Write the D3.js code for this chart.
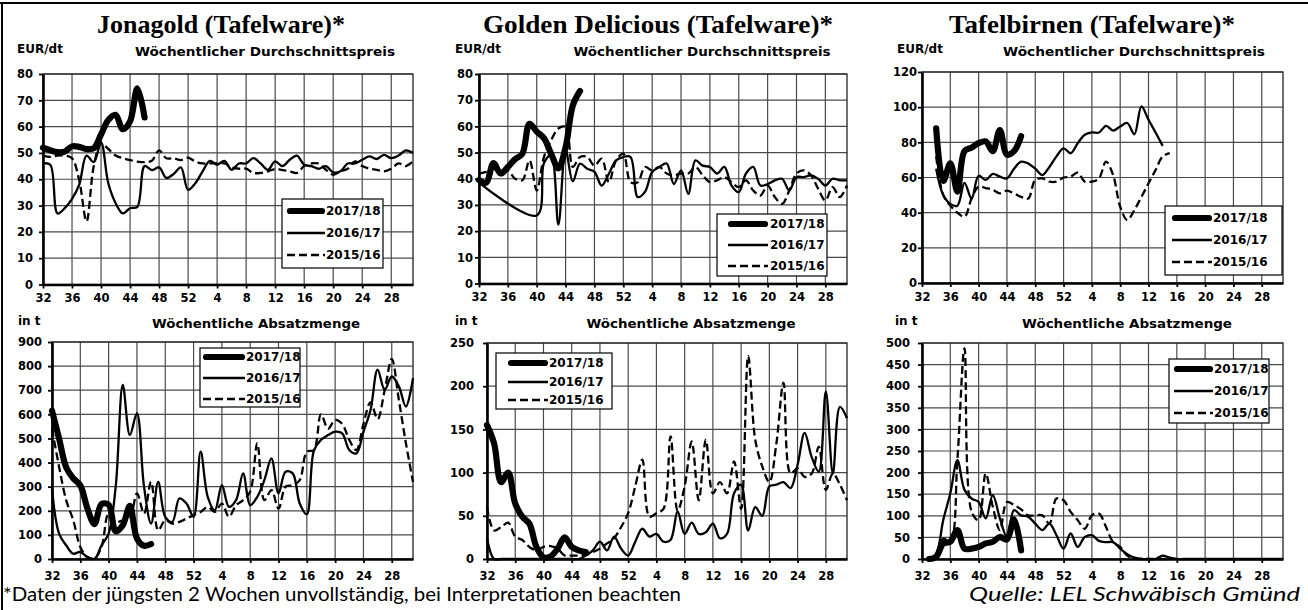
<!DOCTYPE html>
<html>
<head>
<meta charset="utf-8">
<script src="https://cdn.jsdelivr.net/npm/d3@7"></script>
<style>
    body { margin: 0; background: #fff; }
    svg text { fill: #000; }
</style>
</head>
<body>
<script>
// weekly market data, weeks 32 .. 31 of next year (index 0 = week 32)
var weeks = [32,33,34,35,36,37,38,39,40,41,42,43,44,45,46,47,48,49,50,51,52,
             1,2,3,4,5,6,7,8,9,10,11,12,13,14,15,16,17,18,19,20,21,22,23,24,25,26,27,28,29,30,31];
var tickIdx = [0,4,8,12,16,20,24,28,32,36,40,44,48]; // labelled weeks 32,36,...,28
var seasons = ["2017/18", "2016/17", "2015/16"];

// Jonagold – price EUR/dt
var jonaPrice1718 = [52,51,50.3,50.5,52.5,52.3,51.5,51.8,57,62.5,64.5,59,62,74.5,63.5];
var jonaPrice1617 = [46,45.5,27,29,32.5,38,49,46.5,54,38.5,31,27,29,29.5,45,43.5,44.5,40.5,42,44.5,
                     36,38.5,43,47,45.5,47,43.6,46,46,48,46,43.6,46.8,45,47.4,49,45.5,45,44,45,
                     42.6,43,46,46,47.4,48.7,47.7,49.3,48,49,51,50];
var jonaPrice1516 = [49,48.5,49,49,48,39.5,24,45,53.5,51.5,49,48,47.3,46.7,46.5,47,51,48,48,47.3,
                     48.2,46.7,46,46,46,46,44.5,44,44,42.4,42.4,43,43.9,43.5,43,42.4,45,46,46,43.6,
                     41.7,43,44,46.8,45,44,43.6,43,44,46,45,46.8];
// Jonagold – volume t
var jonaVol1718 = [615,500,380,335,305,210,145,228,225,115,140,220,85,55,62];
var jonaVol1617 = [290,105,57,22,29,8,1,57,105,300,722,514,605,300,147,320,175,154,251,230,
                   175,445,258,202,306,216,244,355,223,258,327,417,272,362,355,230,185,450,494,514,
                   528,521,452,438,528,618,785,702,757,716,632,750];
var jonaVol1516 = [540,383,244,161,50,8,1,50,189,154,160,170,272,189,320,119,161,147,154,168,
                   182,195,216,195,230,175,223,244,280,480,244,286,209,300,306,327,445,452,600,540,
                   577,560,494,452,560,650,580,700,830,660,480,320];

// Golden Delicious – price EUR/dt
var goldPrice1718 = [39.5,38.5,46,42,44.5,47.5,49.5,61,58,55.5,49.5,44,52,68,73.5];
var goldPrice1617 = [38.5,null,null,null,null,null,null,null,26,46,49,22.5,51,39,45.8,43.8,42.6,37.4,41.9,47,
                     48.3,48.3,33,35,42.6,44.5,45.8,38,43.2,34.2,47,45,44.5,42,44.5,37.4,34.9,42,44.5,37.4,
                     38,39.4,40,35.5,40.6,40.6,41.3,40,37.4,40,39.4,39.4];
var goldPrice1516 = [42,42.6,43.8,42.6,43.2,40,39.4,47,35.5,48.3,54.7,59.2,59.8,44.5,48.3,48.3,45,47.7,38.7,47,
                     49.6,38.7,38.7,44.5,43.2,44.5,42,41.3,42,42,44.5,41.3,38.7,39.4,40.6,38.7,36.8,39.4,35.5,33.6,
                     37.4,33,30.4,35.5,42,43.2,41.3,36.2,31.7,36.8,33,37.4];
// Golden Delicious – volume t
var goldVol1718 = [155,134,89,100,64,49,41,14,2,3,12,25,14,10,8];
var goldVol1617 = [24,0,0,0,0,0,0,0,0,0,0,0,0,0,4,10,20,10,26,12,
                   4,20,35,26,29,20,22,55,29,42,29,31,41,24,29,76,86,33,60,50,
                   84,86,89,82,109,146,118,101,194,99,176,163];
var goldVol1516 = [60,33,37,42,26,22,14,10,14,15,12,4,4,4,5,8,12,18,24,37,
                   53,84,115,49,53,58,142,56,84,136,68,138,76,89,76,113,58,235,138,107,
                   89,134,204,99,105,95,99,130,80,99,86,68];

// Tafelbirnen – price EUR/dt
var pearPrice1718 = [null,null,88,58,68,52,75,77,79.5,80.5,75,87,73,75,83.5];
var pearPrice1617 = [null,null,65,50,45,44,57,48,61,58.6,62,60.5,59.5,65,69,68,65,61.4,66,72,
                     76.6,73.8,79.5,84.3,85.6,85.6,89.4,86.7,89,91,84.6,100.5,92.8,85.6,78,null,null,null,null,null,
                     null,null,null,null,null,null,null,null,null,null,null,null];
var pearPrice1516 = [null,null,72,50,44,40,37.7,48,54.8,54,53,51,52.5,51,49,48,58.6,59.5,57.6,57.6,
                     60,60.5,62.8,57.6,57.6,59.5,69,61.4,43.4,35.8,41.5,49,56.7,64.3,72,73.8,null,null,null,null,
                     null,null,null,null,null,null,null,null,null,null,null,null];
// Tafelbirnen – volume t
var pearVol1718 = [null,0,5,36,40,67,24,24,28,36,40,51,45,92,20];
var pearVol1617 = [null,0,12,90,152,229,160,140,132,94,148,94,51,113,101,98,82,67,82,55,
                   24,59,28,51,55,42,39,39,24,11,3,0,0,0,8,3,0,0,0,0,
                   0,0,0,0,0,0,0,0,0,0,0,0];
var pearVol1516 = [null,0,5,47,40,230,488,110,90,198,121,67,132,125,115,101,101,101,82,140,
                   136,109,90,70,101,105,74,39,28,8,1,0,0,0,0,0,null,null,null,null,
                   null,null,null,null,null,null,null,null,null,null,null,null];

// panel layout (pixel boxes)
var panels = [
    { x0: 43, x1: 413, y0: 74, y1: 284.5, yMax: 80, yStep: 10, pad: 6, xpad: 5.5,
      unit: "EUR/dt", unitX: 17, unitY: 52.5, sub: "Wöchentlicher Durchschnittspreis", subX: 265, subW: 260, subY: 56,
      series: [jonaPrice1718, jonaPrice1617, jonaPrice1516],
      leg: { x: 282, y: 199, w: 101, h: 69, s0: 5, s1: 43, t: 44, rows: [12, 34, 56] } },
    { x0: 52, x1: 413, y0: 342, y1: 559, yMax: 900, yStep: 100, pad: 6, xpad: 8.5,
      unit: "in t", unitX: 18, unitY: 325, sub: "Wöchentliche Absatzmenge", subX: 256, subW: 208, subY: 328,
      series: [jonaVol1718, jonaVol1617, jonaVol1516],
      leg: { x: 200, y: 348, w: 100, h: 59, s0: 3, s1: 45, t: 46, rows: [9, 30, 51] } },
    { x0: 479, x1: 847, y0: 74, y1: 283.5, yMax: 80, yStep: 10, pad: 2, xpad: 5.5,
      unit: "EUR/dt", unitX: 455, unitY: 52.5, sub: "Wöchentlicher Durchschnittspreis", subX: 702, subW: 257, subY: 56,
      series: [goldPrice1718, goldPrice1617, goldPrice1516],
      leg: { x: 717, y: 214, w: 110, h: 62, s0: 11, s1: 51, t: 53, rows: [10, 31, 52] } },
    { x0: 487, x1: 847, y0: 343, y1: 559, yMax: 250, yStep: 50, pad: 9, xpad: 8.5,
      unit: "in t", unitX: 455, unitY: 325, sub: "Wöchentliche Absatzmenge", subX: 691, subW: 209, subY: 328,
      series: [goldVol1718, goldVol1617, goldVol1516],
      leg: { x: 496, y: 353, w: 116, h: 56, s0: 12, s1: 52, t: 53, rows: [10, 29, 47] } },
    { x0: 922, x1: 1283, y0: 72, y1: 283, yMax: 120, yStep: 20, pad: 1, xpad: 5.5,
      unit: "EUR/dt", unitX: 897, unitY: 52.5, sub: "Wöchentlicher Durchschnittspreis", subX: 1134, subW: 262, subY: 56,
      series: [pearPrice1718, pearPrice1617, pearPrice1516],
      leg: { x: 1165, y: 206, w: 117, h: 69, s0: 7, s1: 47, t: 48, rows: [12, 34, 56] } },
    { x0: 922, x1: 1283, y0: 343, y1: 559, yMax: 500, yStep: 50, pad: 8, xpad: 8.5,
      unit: "in t", unitX: 895, unitY: 325, sub: "Wöchentliche Absatzmenge", subX: 1127, subW: 210, subY: 328,
      series: [pearVol1718, pearVol1617, pearVol1516],
      leg: { x: 1169, y: 359, w: 100, h: 64, s0: 5, s1: 44, t: 45, rows: [10, 32, 54] } }
];

var titles = [
    { text: "Jonagold (Tafelware)*", x: 221, w: 248 },
    { text: "Golden Delicious (Tafelware)*", x: 658, w: 350 },
    { text: "Tafelbirnen (Tafelware)*", x: 1092, w: 286 }
];

// line look per season: thick / solid / dashed
var lineStyle = [
    { w: 6.2, dash: null },
    { w: 2.3, dash: null },
    { w: 2.3, dash: "8,4" }
];

var sansB = "'DejaVu Sans', sans-serif";

var svg = d3.select("body").append("svg")
    .attr("width", 1308)
    .attr("height", 610);

// frame lines (top + left)
svg.append("line").attr("x1", 0).attr("x2", 1308).attr("y1", 3).attr("y2", 3)
    .attr("stroke", "#000").attr("stroke-width", 2.2);
svg.append("line").attr("x1", 2).attr("x2", 2).attr("y1", 2).attr("y2", 610)
    .attr("stroke", "#000").attr("stroke-width", 2);

titles.forEach(function (t) {
    svg.append("text")
        .attr("x", t.x).attr("y", 33)
        .attr("text-anchor", "middle")
        .attr("textLength", t.w)
        .attr("lengthAdjust", "spacingAndGlyphs")
        .style("font-family", "'Liberation Serif', serif")
        .style("font-weight", "bold")
        .style("font-size", "26px")
        .text(t.text);
});

panels.forEach(drawPanel);

function drawPanel(p) {
    var x = d3.scaleLinear().domain([0, weeks.length - 1]).range([p.x0, p.x1]);
    var y = d3.scaleLinear().domain([0, p.yMax]).range([p.y1, p.y0]);
    var yTicks = d3.range(0, p.yMax + 1, p.yStep);
    var g = svg.append("g");

    // gridlines
    g.selectAll(".hgrid").data(yTicks.slice(1)).enter().append("line")
        .attr("x1", p.x0).attr("x2", p.x1)
        .attr("y1", function (d) { return y(d); })
        .attr("y2", function (d) { return y(d); })
        .attr("stroke", "#4a4a4a").attr("stroke-width", 1.2);
    g.selectAll(".vgrid").data(tickIdx.slice(1)).enter().append("line")
        .attr("x1", function (d) { return x(d); })
        .attr("x2", function (d) { return x(d); })
        .attr("y1", p.y0).attr("y2", p.y1)
        .attr("stroke", "#4a4a4a").attr("stroke-width", 1.2);
    g.append("rect")
        .attr("x", p.x0).attr("y", p.y0)
        .attr("width", p.x1 - p.x0).attr("height", p.y1 - p.y0)
        .attr("fill", "none").attr("stroke", "#222").attr("stroke-width", 1.3);

    // season lines, oldest first so the thick one sits on top
    var line = d3.line()
        .x(function (d) { return x(d.i); })
        .y(function (d) { return y(d.v); })
        .curve(d3.curveCatmullRom.alpha(0.5));
    [2, 1, 0].forEach(function (s) {
        var pts = p.series[s]
            .map(function (v, i) { return { i: i, v: v }; })
            .filter(function (d) { return d.v != null; });
        g.append("path")
            .datum(pts)
            .attr("d", line)
            .attr("fill", "none")
            .attr("stroke", "#000")
            .attr("stroke-width", lineStyle[s].w)
            .attr("stroke-dasharray", lineStyle[s].dash)
            .attr("stroke-linejoin", "round")
            .attr("stroke-linecap", s == 0 ? "round" : "butt");
    });

    // axes
    var yAxis = d3.axisLeft(y).tickValues(yTicks).tickSize(4).tickSizeOuter(0).tickPadding(p.pad);
    var xAxis = d3.axisBottom(x).tickValues(tickIdx)
        .tickFormat(function (i) { return weeks[i]; })
        .tickSize(4).tickSizeOuter(0).tickPadding(p.xpad);
    var ya = g.append("g").attr("transform", "translate(" + p.x0 + ",0)").call(yAxis);
    var xa = g.append("g").attr("transform", "translate(0," + p.y1 + ")").call(xAxis);
    [ya, xa].forEach(function (a) {
        a.attr("font-family", null).attr("font-size", null);
        a.select(".domain").attr("stroke", "#000").attr("stroke-width", 2.6);
        a.selectAll(".tick line").attr("stroke", "#000").attr("stroke-width", 1.8);
        a.selectAll(".tick text")
            .style("font-family", sansB).style("font-weight", "bold").style("font-size", "11.5px");
    });

    // unit + subtitle
    g.append("text").attr("x", p.unitX).attr("y", p.unitY)
        .style("font-family", sansB).style("font-weight", "bold").style("font-size", "12px")
        .text(p.unit);
    g.append("text").attr("x", p.subX).attr("y", p.subY)
        .attr("text-anchor", "middle")
        .attr("textLength", p.subW).attr("lengthAdjust", "spacingAndGlyphs")
        .style("font-family", sansB).style("font-weight", "bold").style("font-size", "13px")
        .text(p.sub);

    // legend
    var L = p.leg;
    var lg = g.append("g").attr("transform", "translate(" + L.x + "," + L.y + ")");
    lg.append("rect").attr("width", L.w).attr("height", L.h)
        .attr("fill", "#fff").attr("stroke", "#000").attr("stroke-width", 1.2);
    seasons.forEach(function (name, s) {
        lg.append("line")
            .attr("x1", L.s0 + (s == 0 ? 3 : 0)).attr("x2", L.s1 - (s == 0 ? 3 : 0))
            .attr("y1", L.rows[s]).attr("y2", L.rows[s])
            .attr("stroke", "#000")
            .attr("stroke-width", lineStyle[s].w)
            .attr("stroke-dasharray", lineStyle[s].dash)
            .attr("stroke-linecap", s == 0 ? "round" : "butt");
        lg.append("text").attr("x", L.t).attr("y", L.rows[s]).attr("dy", "0.36em")
            .style("font-family", sansB).style("font-weight", "bold").style("font-size", "12px")
            .text(name);
    });
}

// footer
svg.append("text").attr("x", 3).attr("y", 601)
    .attr("textLength", 678).attr("lengthAdjust", "spacingAndGlyphs")
    .style("font-family", "Lato, 'Noto Sans', sans-serif").style("font-size", "20px")
    .text("*Daten der jüngsten 2 Wochen unvollständig, bei Interpretationen beachten");
svg.append("text").attr("x", 1300).attr("y", 601)
    .attr("text-anchor", "end")
    .attr("textLength", 331).attr("lengthAdjust", "spacingAndGlyphs")
    .style("font-family", "Lato, 'Noto Sans', sans-serif").style("font-style", "italic").style("font-size", "20px")
    .text("Quelle: LEL Schwäbisch Gmünd");
</script>
</body>
</html>
